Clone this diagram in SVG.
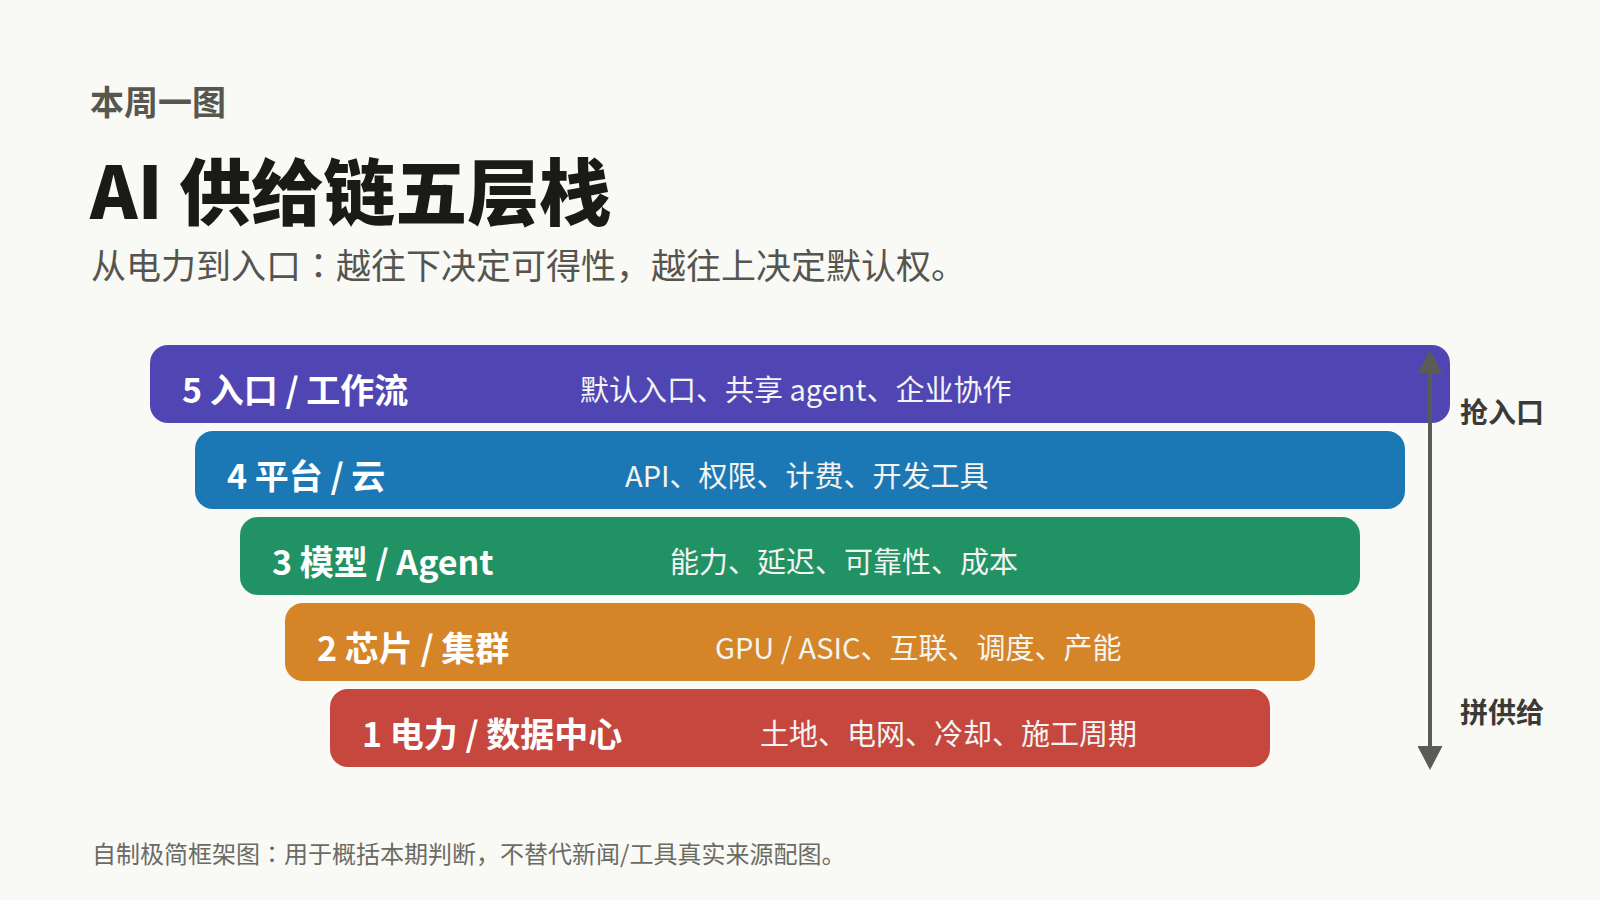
<svg xmlns="http://www.w3.org/2000/svg" width="1600" height="900" viewBox="0 0 1600 900">
<defs>
<style>
.k{font-family:"Noto Sans CJK SC","Noto Sans",sans-serif;}
.jp{font-family:"Noto Sans CJK JP","Noto Sans CJK SC",sans-serif;}
.eyebrow{font-size:34px;font-weight:700;fill:#57574f;}
.title{font-size:72px;font-weight:900;fill:#1a1a17;}
.sub{font-size:35px;font-weight:400;fill:#55554f;}
.foot{font-size:24px;font-weight:400;fill:#6b6b64;}
.lbl{font-size:34px;font-weight:700;fill:#ffffff;}
.desc{font-size:29px;font-weight:400;fill:#f4f4f2;}
.side{font-size:28px;font-weight:700;fill:#3b3b36;}
</style>
<marker id="ah" viewBox="0 0 24 25" refX="12" refY="12.5" markerWidth="24" markerHeight="25" markerUnits="userSpaceOnUse" orient="auto-start-reverse">
<path d="M0,0 L24,12.5 L0,25 Z" fill="#5b5b55"/>
</marker>
</defs>
<rect width="1600" height="900" fill="#f9f9f6"/>
<text class="k eyebrow" x="90" y="115">本周一图</text>
<text class="k title" x="90" y="219">AI 供给链五层栈</text>
<text class="k sub" x="91" y="279">从电力到入口<tspan class="jp">：</tspan>越往下决定可得性，越往上决定默认权。</text>

<g id="layer5">
<rect x="150" y="345" width="1300" height="78" rx="18" fill="#5046b3"/>
<text class="k lbl" x="182" y="403">5 入口 / 工作流</text>
<text class="k desc" x="580" y="401">默认入口、共享 agent、企业协作</text>
</g>
<g id="layer4">
<rect x="195" y="431" width="1210" height="78" rx="18" fill="#1c78b4"/>
<text class="k lbl" x="227" y="489">4 平台 / 云</text>
<text class="k desc" x="625" y="487">API、权限、计费、开发工具</text>
</g>
<g id="layer3">
<rect x="240" y="517" width="1120" height="78" rx="18" fill="#219264"/>
<text class="k lbl" x="272" y="575">3 模型 / Agent</text>
<text class="k desc" x="670" y="573">能力、延迟、可靠性、成本</text>
</g>
<g id="layer2">
<rect x="285" y="603" width="1030" height="78" rx="18" fill="#d58428"/>
<text class="k lbl" x="317" y="661">2 芯片 / 集群</text>
<text class="k desc" x="715" y="659">GPU / ASIC、互联、调度、产能</text>
</g>
<g id="layer1">
<rect x="330" y="689" width="940" height="78" rx="18" fill="#c6473d"/>
<text class="k lbl" x="362" y="747">1 电力 / 数据中心</text>
<text class="k desc" x="760" y="745">土地、电网、冷却、施工周期</text>
</g>

<g id="connectors">
<line x1="1430" y1="362" x2="1430" y2="758" stroke="#5b5b55" stroke-width="4" marker-start="url(#ah)" marker-end="url(#ah)"/>
</g>
<text class="k side" x="1460" y="423">抢入口</text>
<text class="k side" x="1460" y="723">拼供给</text>
<text class="k foot" x="92" y="863">自制极简框架图<tspan class="jp">：</tspan>用于概括本期判断，不替代新闻/工具真实来源配图。</text>
</svg>
